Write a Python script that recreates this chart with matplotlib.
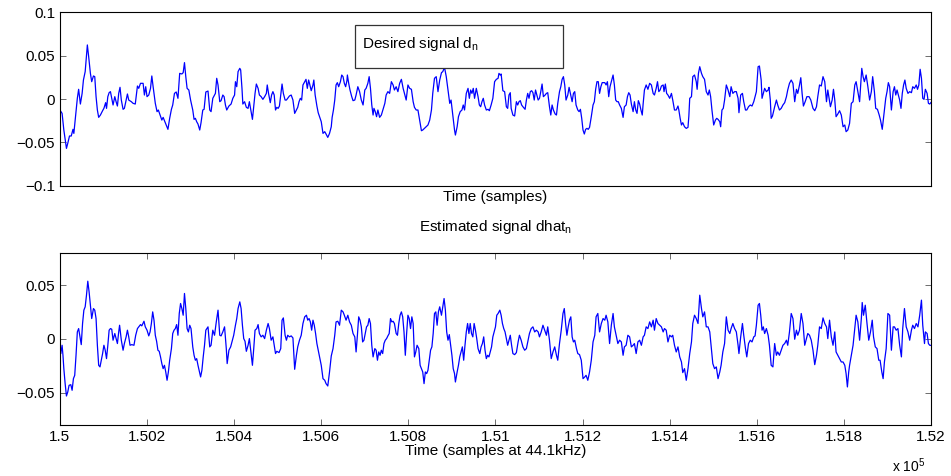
import numpy as np
import matplotlib
matplotlib.use("Agg")
import matplotlib.pyplot as plt
from matplotlib.patches import Rectangle

plt.rcParams["font.family"] = ["Liberation Sans", "DejaVu Sans"]
plt.rcParams["mathtext.fontset"] = "custom"
plt.rcParams["mathtext.rm"] = "Liberation Sans"
plt.rcParams["mathtext.default"] = "regular"

# -----------------------------
# Data
# sample offsets from 150000, amplitudes in units of 1e-3
# -----------------------------
start_sample = 150000

desired_off = [0, 5, 9, 15, 18, 22, 26, 30, 32, 35, 40, 43, 47, 51, 54, 58, 63, 66, 70, 73, 77, 80, 83, 86, 89, 93,
               98, 101, 105, 107, 110, 113, 116, 119, 122, 126, 129, 132, 135, 138, 141, 145, 148, 152, 155, 158,
               164, 168, 173, 178, 181, 185, 191, 194, 197, 200, 204, 208, 211, 214, 219, 223, 226, 230, 234, 237,
               240, 244, 248, 252, 256, 259, 263, 267, 271, 275, 280, 283, 286, 289, 292, 296, 300, 305, 308, 311,
               314, 317, 321, 324, 328, 331, 335, 340, 344, 347, 351, 355, 357, 360, 363, 367, 370, 374, 377, 380,
               383, 388, 393, 397, 401, 403, 406, 409, 413, 415, 418, 420, 424, 428, 432, 435, 439, 442, 445, 448,
               451, 455, 458, 462, 466, 470, 474, 476, 479, 483, 486, 489, 492, 495, 498, 501, 504, 507, 510, 513,
               517, 520, 523, 527, 531, 535, 539, 543, 546, 549, 552, 555, 558, 562, 565, 568, 571, 573, 577, 581,
               583, 586, 590, 593, 596, 600, 604, 608, 611, 615, 619, 623, 625, 628, 631, 634, 637, 640, 644, 647,
               650, 653, 656, 659, 660, 663, 666, 670, 673, 677, 680, 684, 688, 692, 696, 700, 703, 707, 710, 713,
               716, 719, 721, 724, 727, 730, 734, 738, 742, 746, 749, 753, 757, 761, 765, 768, 772, 776, 780, 784,
               788, 791, 795, 799, 803, 807, 811, 814, 818, 822, 826, 830, 833, 837, 841, 845, 849, 853, 856, 860,
               864, 868, 872, 876, 879, 883, 887, 891, 895, 898, 902, 906, 908, 912, 915, 919, 923, 926, 929, 933,
               937, 940, 943, 946, 949, 952, 956, 960, 963, 966, 969, 972, 975, 979, 983, 986, 990, 994, 998, 1002,
               1006, 1008, 1011, 1013, 1017, 1021, 1025, 1028, 1031, 1034, 1036, 1040, 1044, 1048, 1051, 1054, 1057,
               1060, 1063, 1068, 1071, 1074, 1077, 1080, 1083, 1086, 1089, 1092, 1095, 1098, 1101, 1104, 1107, 1110,
               1114, 1117, 1120, 1124, 1127, 1130, 1133, 1137, 1140, 1143, 1147, 1150, 1153, 1156, 1159, 1162, 1166,
               1169, 1172, 1176, 1179, 1182, 1185, 1189, 1192, 1195, 1198, 1201, 1204, 1207, 1210, 1213, 1216, 1220,
               1224, 1227, 1230, 1233, 1236, 1239, 1242, 1245, 1248, 1251, 1254, 1257, 1260, 1263, 1267, 1270, 1273,
               1276, 1279, 1282, 1285, 1289, 1293, 1296, 1300, 1303, 1306, 1309, 1312, 1316, 1319, 1322, 1325, 1328,
               1331, 1334, 1337, 1339, 1342, 1346, 1350, 1354, 1358, 1362, 1365, 1369, 1372, 1375, 1378, 1381, 1385,
               1387, 1390, 1393, 1396, 1400, 1404, 1407, 1411, 1415, 1419, 1421, 1424, 1427, 1430, 1434, 1438, 1442,
               1444, 1446, 1450, 1453, 1457, 1461, 1463, 1466, 1469, 1473, 1476, 1480, 1484, 1488, 1491, 1494, 1497,
               1501, 1505, 1508, 1511, 1515, 1517, 1520, 1523, 1526, 1530, 1534, 1538, 1541, 1545, 1549, 1553, 1557,
               1559, 1563, 1567, 1570, 1574, 1577, 1581, 1585, 1589, 1593, 1596, 1599, 1603, 1606, 1610, 1612, 1615,
               1618, 1622, 1626, 1628, 1631, 1633, 1636, 1641, 1645, 1648, 1652, 1656, 1660, 1664, 1668, 1671, 1675,
               1679, 1683, 1687, 1691, 1694, 1698, 1701, 1704, 1707, 1711, 1715, 1720, 1724, 1729, 1733, 1737, 1740,
               1744, 1748, 1752, 1756, 1760, 1763, 1766, 1769, 1773, 1776, 1779, 1782, 1786, 1790, 1794, 1798, 1802,
               1805, 1809, 1813, 1817, 1821, 1825, 1828, 1832, 1836, 1838, 1841, 1844, 1847, 1851, 1855, 1859, 1863,
               1866, 1870, 1873, 1877, 1881, 1884, 1888, 1892, 1896, 1899, 1902, 1905, 1909, 1913, 1916, 1919, 1922,
               1925, 1928, 1931, 1934, 1937, 1940, 1943, 1947, 1951, 1955, 1958, 1962, 1966, 1969, 1972, 1975, 1978,
               1981, 1984, 1987, 1991, 1994, 1997, 2000]
desired_e3 = [-12.7, -16.6, -35.8, -57.0, -51.2, -42.7, -42.7, -35.0, -39.7, -24.3, 0.8, 11.2, -5.8, 6.5, 21.9,
              31.6, 62.4, 48.9, 29.6, 20.0, 26.6, 25.8, 2.7, -12.7, -21.2, -18.5, -13.5, -10.8, -4.2, -10.8, 2.7,
              7.3, 8.5, 0.8, -6.9, 2.7, -3.1, -8.1, 6.5, 13.5, -1.2, -11.9, -10.8, -1.2, 5.8, -1.2, -3.1, -5.0,
              -5.8, 15.0, 12.3, 18.1, 18.1, 4.6, 14.2, 2.7, 4.6, 12.3, 26.6, 14.2, -5.0, -14.6, -12.7, -18.5,
              -24.3, -21.2, -25.0, -30.0, -35.0, -22.3, -11.9, -6.9, 6.5, 8.1, 0.8, 29.6, 28.9, 30.4, 42.0, 25.8,
              12.3, 10.4, -1.2, -12.7, -23.5, -22.3, -26.2, -28.9, -35.8, -27.3, -12.7, -11.9, 8.1, 9.2, -12.7,
              -14.6, 0.8, 4.6, 6.5, 23.9, 16.2, -3.1, -1.9, 4.6, 2.7, -6.9, -12.7, -8.1, -5.8, 0.8, 4.6, 20.0,
              14.2, 31.6, 35.4, 33.5, 12.3, -5.8, -3.1, -9.6, -10.8, -3.1, -14.6, -23.5, -8.9, 6.5, 17.3, 12.3,
              4.6, 2.7, -0.4, 2.7, 6.5, 16.2, 6.5, -4.2, 4.6, 8.5, 4.6, -12.7, -9.6, -10.8, -8.1, 4.6, 17.3, 6.5,
              -1.2, -1.2, 0.8, 3.5, 4.6, -1.2, -16.6, -12.7, -9.6, -3.1, 0.8, -1.2, 16.2, 20.0, 22.7, 12.3, 21.9,
              18.1, 9.6, 16.2, 21.9, 4.6, -8.1, -15.8, -20.4, -26.2, -39.7, -37.7, -40.4, -44.3, -39.7, -32.0,
              -21.2, -12.7, -1.2, 16.2, 18.9, 14.2, 20.0, 27.7, 25.8, 18.1, 14.2, 21.2, 27.7, 18.1, 10.4, 2.7, -1.9,
              -1.2, 4.6, 14.2, 8.5, -1.2, -6.9, 10.4, 12.3, 18.1, 25.8, 12.3, -6.9, -18.5, -10.8, -14.6, -20.4,
              -12.7, -21.2, -18.5, -11.9, -5.0, 4.6, 8.5, 6.5, 20.0, 16.2, 10.4, 14.2, 8.5, 18.1, 22.7, 12.3, 6.5,
              -1.2, 16.2, 12.3, 11.2, -3.1, -9.6, -12.7, -12.7, -24.3, -36.6, -35.8, -33.9, -32.0, -30.0, -24.3,
              -12.7, 6.5, 23.9, 25.8, 8.5, 21.9, 30.4, 31.6, 36.6, 25.8, 10.4, -5.0, -1.2, -18.5, -35.8, -41.6,
              -32.0, -20.4, -14.6, -12.7, -6.9, -12.7, 6.5, 12.3, 0.8, 10.4, 6.5, 12.3, 0.8, 12.3, 2.7, -6.9, -8.9,
              -3.1, 0.8, -6.9, -12.7, -11.9, -13.5, -6.9, 0.8, 20.0, 22.7, 23.9, 29.6, 27.7, 28.9, 9.6, 8.5, -8.9,
              -10.8, 4.6, 7.3, -10.8, -18.5, -19.6, -3.1, -6.9, -3.1, -1.9, -6.9, -8.9, -11.9, -1.2, 6.5, 0.8, 8.5,
              9.6, 7.3, -1.2, 10.4, 4.6, -1.2, 0.8, 8.5, 17.3, 2.7, 4.6, 6.5, 7.3, -8.9, -18.5, -6.9, -12.7, -17.3,
              -18.5, -5.0, 8.5, 14.2, 22.7, 25.8, 16.2, -1.2, 4.6, 13.5, 6.5, -3.1, 6.5, 8.5, -6.9, -12.7, -14.6,
              -11.9, -22.3, -35.8, -40.4, -35.0, -33.9, -35.0, -32.7, -20.4, -6.9, -3.1, 11.2, 20.0, 20.0, 6.5,
              14.2, 18.9, 18.9, 18.9, 16.2, 20.0, 2.7, 14.2, 21.9, 27.7, 16.2, -1.2, -3.1, -3.1, -6.9, -10.8,
              -21.2, -8.9, -6.9, 2.7, 7.3, 4.6, -5.8, -14.6, -3.1, -12.7, -16.6, -1.9, -5.8, -12.7, -18.5, -5.8,
              10.4, 16.2, 11.2, 18.1, 16.2, 6.5, 4.6, 12.3, 20.0, 8.5, 10.4, 15.0, 16.2, 8.5, 17.3, 6.5, 4.6, 0.8,
              6.5, -1.2, -12.7, -12.7, -8.1, -12.7, -22.3, -30.0, -27.3, -32.0, -33.9, -32.7, -19.6, 0.8, 2.7, 25.8,
              27.7, 20.0, 11.2, 29.6, 37.3, 29.6, 25.8, 22.7, 8.5, 4.6, 10.4, 2.7, -12.7, -30.0, -24.3, -22.3,
              -23.5, -26.2, -32.0, -12.7, -10.8, -1.2, 16.2, 10.4, 2.7, 14.2, 6.5, 8.5, 8.5, 0.8, -15.8, 4.6, 6.5,
              -3.1, -12.7, -12.7, -8.9, -6.9, -8.1, -3.1, 2.7, 8.5, 37.3, 38.1, 21.9, 0.8, 6.5, 12.3, 8.5, 10.4,
              13.5, -1.2, -22.3, -19.6, -8.9, -1.2, -6.9, -12.7, -10.8, -6.9, -4.2, 2.7, 10.4, 18.1, 21.9, 18.1,
              -3.1, 11.2, 6.5, 16.2, 24.6, 6.5, -8.1, -3.1, 2.7, 2.7, -1.2, -10.8, -13.5, -8.9, 2.7, 16.2, 15.0,
              25.8, 20.0, -3.1, 10.4, 0.8, -8.9, -1.2, 11.2, -1.2, -20.4, -17.3, -13.5, -18.5, -32.0, -30.0, -37.7,
              -35.8, -28.1, -5.0, -3.1, 16.2, 20.0, 8.5, -3.1, 12.3, 35.4, 25.8, 20.0, 27.7, 14.2, -1.2, 8.5, 25.8,
              8.5, -10.8, -11.9, -18.5, -24.3, -35.0, -16.6, 0.8, 8.5, 18.9, 14.2, -12.7, 8.5, 14.2, 4.6, 10.4, 4.6,
              -1.2, -10.8, 6.5, 16.2, 21.9, 12.3, 6.5, 8.5, 7.3, 14.2, 12.3, 16.2, 11.2, 16.2, 34.3, 23.9, 0.8,
              -0.4, 11.2, 6.5, -5.0, -5.8, -4.0]

estimated_off = [0, 2, 5, 7, 9, 12, 15, 18, 21, 25, 28, 31, 34, 37, 40, 43, 46, 49, 52, 55, 58, 61, 64, 67, 70, 73,
                 77, 80, 83, 86, 89, 92, 95, 98, 101, 104, 107, 110, 113, 116, 119, 122, 126, 129, 132, 135, 137, 141,
                 145, 148, 152, 155, 158, 161, 165, 170, 174, 178, 181, 185, 188, 193, 196, 200, 204, 207, 210, 213,
                 216, 219, 222, 225, 228, 231, 234, 237, 240, 243, 246, 249, 252, 256, 259, 262, 265, 268, 271, 274,
                 277, 280, 283, 286, 289, 292, 295, 298, 301, 305, 308, 311, 314, 317, 320, 323, 326, 329, 332, 335,
                 340, 344, 347, 351, 355, 359, 363, 367, 370, 374, 378, 382, 384, 388, 392, 396, 399, 403, 406, 409,
                 413, 416, 419, 422, 425, 428, 432, 435, 439, 442, 445, 448, 452, 455, 458, 462, 466, 470, 474, 478,
                 481, 485, 489, 492, 495, 498, 503, 507, 510, 513, 517, 520, 523, 527, 531, 535, 539, 543, 546, 550,
                 554, 558, 562, 566, 569, 572, 575, 578, 581, 584, 587, 590, 593, 596, 600, 604, 608, 611, 615, 619,
                 623, 627, 631, 634, 638, 642, 646, 650, 653, 657, 661, 665, 669, 673, 677, 680, 683, 686, 689, 692,
                 695, 698, 701, 704, 707, 710, 713, 716, 719, 723, 726, 729, 732, 735, 738, 741, 744, 747, 750, 753,
                 756, 759, 762, 765, 768, 772, 775, 778, 781, 784, 787, 790, 793, 796, 799, 802, 805, 808, 811, 814,
                 817, 820, 824, 827, 830, 833, 836, 839, 842, 845, 848, 851, 854, 857, 860, 863, 866, 869, 872, 876,
                 879, 882, 885, 888, 891, 894, 897, 900, 903, 906, 908, 912, 915, 918, 921, 924, 927, 930, 933, 936,
                 939, 942, 945, 948, 951, 954, 957, 960, 964, 967, 970, 973, 976, 979, 982, 985, 988, 991, 994, 997,
                 1000, 1003, 1006, 1010, 1013, 1016, 1019, 1022, 1025, 1028, 1031, 1034, 1037, 1040, 1044, 1048, 1052,
                 1055, 1059, 1063, 1067, 1071, 1075, 1078, 1082, 1086, 1090, 1094, 1098, 1101, 1105, 1109, 1113, 1117,
                 1120, 1124, 1128, 1132, 1136, 1140, 1143, 1147, 1151, 1155, 1158, 1161, 1164, 1167, 1170, 1173, 1176,
                 1179, 1182, 1186, 1189, 1193, 1197, 1201, 1205, 1208, 1212, 1216, 1220, 1224, 1228, 1231, 1235, 1239,
                 1243, 1247, 1251, 1254, 1258, 1262, 1266, 1270, 1273, 1277, 1281, 1285, 1289, 1293, 1296, 1300, 1304,
                 1308, 1312, 1316, 1319, 1323, 1327, 1331, 1335, 1339, 1342, 1346, 1350, 1354, 1358, 1362, 1365, 1369,
                 1373, 1377, 1381, 1385, 1388, 1392, 1396, 1400, 1404, 1407, 1411, 1415, 1419, 1423, 1427, 1430, 1434,
                 1438, 1442, 1446, 1450, 1453, 1457, 1461, 1465, 1469, 1473, 1476, 1480, 1484, 1488, 1492, 1495, 1499,
                 1503, 1507, 1511, 1515, 1518, 1522, 1526, 1530, 1534, 1538, 1541, 1545, 1549, 1553, 1557, 1559, 1563,
                 1567, 1570, 1574, 1577, 1581, 1585, 1589, 1593, 1596, 1599, 1603, 1606, 1609, 1612, 1615, 1618, 1622,
                 1626, 1629, 1633, 1637, 1641, 1645, 1648, 1652, 1656, 1660, 1664, 1668, 1671, 1675, 1679, 1683, 1687,
                 1691, 1694, 1698, 1702, 1706, 1710, 1714, 1717, 1721, 1725, 1729, 1733, 1737, 1740, 1744, 1748, 1752,
                 1756, 1760, 1763, 1767, 1771, 1775, 1779, 1782, 1786, 1790, 1794, 1798, 1802, 1805, 1808, 1811, 1813,
                 1817, 1821, 1825, 1828, 1832, 1836, 1840, 1842, 1845, 1849, 1853, 1857, 1861, 1865, 1868, 1872, 1876,
                 1880, 1883, 1887, 1890, 1893, 1897, 1901, 1905, 1909, 1913, 1916, 1920, 1924, 1928, 1932, 1935, 1939,
                 1943, 1947, 1951, 1955, 1958, 1962, 1966, 1970, 1974, 1978, 1981, 1985, 1987, 1991, 1994, 1997, 2000]
estimated_e3 = [-12.1, -13.6, -5.9, -15.2, -27.6, -41.5, -53.0, -49.3, -43.1, -42.5, -47.7, -36.9, -33.8, -15.2, 6.5,
                9.6, 1.9, -5.3, 14.3, 26.7, 29.8, 40.6, 53.6, 43.7, 31.3, 18.9, 28.2, 26.7, 18.9, -5.9, -24.5, -26.0,
                -19.8, -13.6, -5.9, -10.5, -18.3, -5.9, 8.1, 9.6, 9.0, -1.2, 5.0, 0.3, -4.3, 6.5, 12.7, -1.2, -10.5,
                -4.3, 1.9, 8.1, 1.9, -5.9, -5.3, -5.9, 3.4, 9.6, 11.2, 13.3, 12.1, 16.4, 11.2, 8.1, 2.8, 6.5, 14.3,
                25.1, 17.4, 3.4, -2.2, -10.5, -11.5, -16.7, -22.9, -27.6, -24.5, -30.7, -38.4, -30.7, -19.8, -9.0,
                5.0, 8.1, 9.6, 13.3, 3.4, 23.6, 32.9, 28.2, 22.0, 42.2, 28.2, 9.6, 6.5, 12.7, 9.6, -7.4, -15.2, -19.8,
                -18.3, -24.5, -30.1, -35.3, -29.1, -16.7, -5.9, 8.1, 11.2, -7.4, -5.9, 8.1, 3.4, 15.8, 26.7, 3.4, 2.8,
                6.5, 11.2, -9.0, -22.9, -10.5, -7.4, -1.2, 3.4, 12.7, 18.9, 28.2, 34.4, 28.2, 12.7, 0.3, -2.2, -11.5,
                -5.9, 0.3, -13.6, -24.5, -9.0, 8.1, 9.6, 13.3, 5.0, 1.9, 3.4, 0.3, 8.1, 14.3, 9.6, -1.2, 1.9, -5.9,
                -13.6, -11.5, -12.7, -9.0, 17.4, 19.5, 3.4, -1.2, 3.4, 1.9, 2.8, 0.9, -28.2, -15.2, -7.4, -1.2, 3.4,
                14.3, 20.5, 22.0, 17.4, 18.9, 15.8, 8.1, 17.4, 12.7, 5.0, -4.3, -10.5, -16.7, -24.5, -36.9, -38.4,
                -41.5, -43.7, -30.7, -15.8, -9.0, 3.4, 15.8, 16.4, 12.7, 26.7, 25.1, 22.0, 17.4, 22.0, 15.8, 12.7,
                5.0, 1.9, -12.1, 3.4, 20.5, 17.4, 11.2, -2.8, -1.2, 5.0, 11.2, 12.7, 18.9, 14.3, -5.9, -16.7, -9.0,
                -10.5, -19.8, -12.1, -15.2, -10.5, -13.6, -4.3, -1.2, 0.3, 2.8, 5.0, 18.9, 15.8, 16.4, 14.3, 5.0, 3.4,
                14.3, 22.0, 25.1, 20.5, 6.5, -15.2, 5.0, 22.0, 18.9, 9.6, 20.5, 14.3, -16.7, -12.1, -5.9, -9.0, -24.5,
                -27.6, -30.7, -41.5, -30.7, -32.2, -29.1, -19.8, -10.5, -7.4, 5.0, 23.6, 25.1, 12.7, 25.1, 29.8, 22.0,
                29.8, 37.5, 26.7, 6.5, -1.2, 4.0, -5.9, -15.2, -27.6, -32.2, -40.0, -30.7, -24.5, -16.7, -12.1, -7.4,
                -19.8, -5.9, 6.5, 14.3, 5.0, 14.3, 5.0, 1.9, 14.3, 8.1, 0.3, -9.0, -13.6, -7.4, -4.3, 1.9, -10.5,
                -18.3, -15.2, -16.7, -12.1, -7.4, 1.9, 6.5, 11.2, 22.0, 23.6, 26.7, 22.0, 14.3, 9.6, 6.5, 0.3, -5.9,
                -1.2, 3.4, -5.9, -13.6, -14.6, -12.7, -2.8, 3.4, -1.2, -7.4, -10.5, -9.0, -1.2, 5.0, 9.6, 11.2, 6.5,
                8.1, 6.5, 1.9, 6.5, 12.7, 8.1, 3.4, 11.2, -1.2, -18.3, -12.1, -7.4, -15.2, -19.8, -4.3, 8.1, 23.6,
                28.2, 14.3, 3.4, 11.2, 17.4, 20.5, 1.9, -2.8, -1.2, -9.0, -13.6, -14.6, -19.8, -36.9, -35.3, -33.8,
                -38.4, -30.7, -19.8, -2.8, 3.4, 20.5, 23.6, 6.5, 14.3, 18.9, 17.4, 22.0, 15.8, -4.3, 12.7, 23.6, 11.2,
                3.4, -4.3, -1.2, -2.8, -15.2, -7.4, -5.9, 3.4, 1.9, -7.4, -5.9, -4.3, -13.6, -2.8, -1.2, -5.9, 1.9,
                3.4, 11.2, 9.6, 15.8, 11.2, 17.4, 8.1, 18.9, 14.3, 12.7, 11.2, 6.5, 9.6, 8.1, -2.8, 3.4, 1.9, 3.4,
                -5.9, -12.1, -7.4, -16.7, -21.4, -31.3, -27.6, -38.4, -27.6, -13.6, -2.8, 14.3, 22.0, 18.9, 14.3,
                40.6, 28.2, 20.5, 25.1, 11.2, 11.2, 6.5, -5.9, -22.9, -27.6, -26.0, -36.9, -30.7, -24.5, -12.1, -4.3,
                20.5, 8.1, 5.0, 9.6, 14.3, 9.6, 6.5, -5.9, -13.6, 1.9, 14.3, 3.4, -9.0, -16.7, -4.3, -1.2, -2.8, 1.9,
                2.8, 12.7, 31.3, 32.9, 22.0, 8.1, 11.2, 5.0, 9.6, 3.4, -5.9, -24.5, -26.0, -4.3, -15.2, -12.1, -15.2,
                -10.5, -5.9, -4.3, -1.2, -5.9, 6.5, 23.6, 18.9, -0.3, 8.1, 3.4, 8.1, 23.6, 14.3, -5.9, 0.3, 5.0, 3.4,
                -1.2, -10.5, -23.9, -15.2, -5.9, 11.2, 9.6, 19.5, 14.3, 11.2, 0.3, 17.4, 1.9, -5.9, 6.5, -12.1, -15.2,
                -18.3, -21.4, -21.4, -24.5, -32.2, -44.6, -30.7, -24.5, -15.2, -5.9, 9.6, 22.0, 15.8, -1.2, 18.9, 33.8,
                22.0, 31.3, 14.3, -1.2, 6.5, 17.4, 1.9, -7.4, -9.0, -19.8, -19.8, -30.7, -36.9, -21.4, -9.0, 23.6,
                22.0, -10.5, 11.2, 11.2, 8.1, 9.6, -5.9, -16.7, 9.6, 28.2, 11.2, 6.5, -1.2, 8.1, 12.7, 9.6, 14.3, 11.2,
                22.0, 36.0, 12.7, -4.3, 6.5, 5.0, -4.3, -5.9, -6.0]

xtick_labels = ["1.5", "1.502", "1.504", "1.506", "1.508", "1.51", "1.512", "1.514", "1.516", "1.518", "1.52"]
top_yticks = [-0.1, -0.05, 0, 0.05, 0.1]
top_ylabels = ["\u22120.1", "\u22120.05", "0", "0.05", "0.1"]
bot_yticks = [-0.05, 0, 0.05]
bot_ylabels = ["\u22120.05", "0", "0.05"]

# -----------------------------
# Plot
# -----------------------------
fs = 11
fig = plt.figure(figsize=(9.51, 4.76), dpi=100)
ax1 = fig.add_axes([0.063, 0.610, 0.916, 0.364])
ax2 = fig.add_axes([0.063, 0.107, 0.916, 0.362])

x1 = start_sample + np.array(desired_off)
y1 = np.array(desired_e3) * 1e-3
x2 = start_sample + np.array(estimated_off)
y2 = np.array(estimated_e3) * 1e-3

ax1.plot(x1, y1, color="#0000ff", lw=0.9)
ax2.plot(x2, y2, color="#0000ff", lw=0.9)

xticks = start_sample + 200 * np.arange(len(xtick_labels))
for ax in (ax1, ax2):
    ax.set_xlim(start_sample, start_sample + 2000)
    ax.tick_params(direction="in", length=4, width=0.6, labelsize=fs,
                   right=True, top=True, color="#555555")
    for s in ax.spines.values():
        s.set_linewidth(0.8)

ax1.set_ylim(-0.1, 0.1)
ax1.set_yticks(top_yticks, top_ylabels)
ax1.set_xticks([])
ax1.set_xlabel("Time (samples)", fontsize=fs, labelpad=3)

# legend-style box
ax1.add_patch(Rectangle((0.339, 0.679), 0.238, 0.248, transform=ax1.transAxes,
                        fc="white", ec="#333333", lw=0.9, zorder=3))
ax1.text(0.347, 0.815, "Desired signal d$_n$", transform=ax1.transAxes, fontsize=fs,
         va="center", ha="left", zorder=4)

ax2.set_ylim(-0.08, 0.08)
ax2.set_yticks(bot_yticks, bot_ylabels)
ax2.set_xticks(xticks, xtick_labels)
ax2.set_xlabel("Time (samples at 44.1kHz)", fontsize=fs, labelpad=0)
ax2.set_title("Estimated signal dhat$_n$", fontsize=fs, pad=16)
ax2.text(0.955, -0.235, "x 10$^5$", transform=ax2.transAxes, fontsize=10, ha="left", va="center")

fig.savefig("out.png", dpi=100)
